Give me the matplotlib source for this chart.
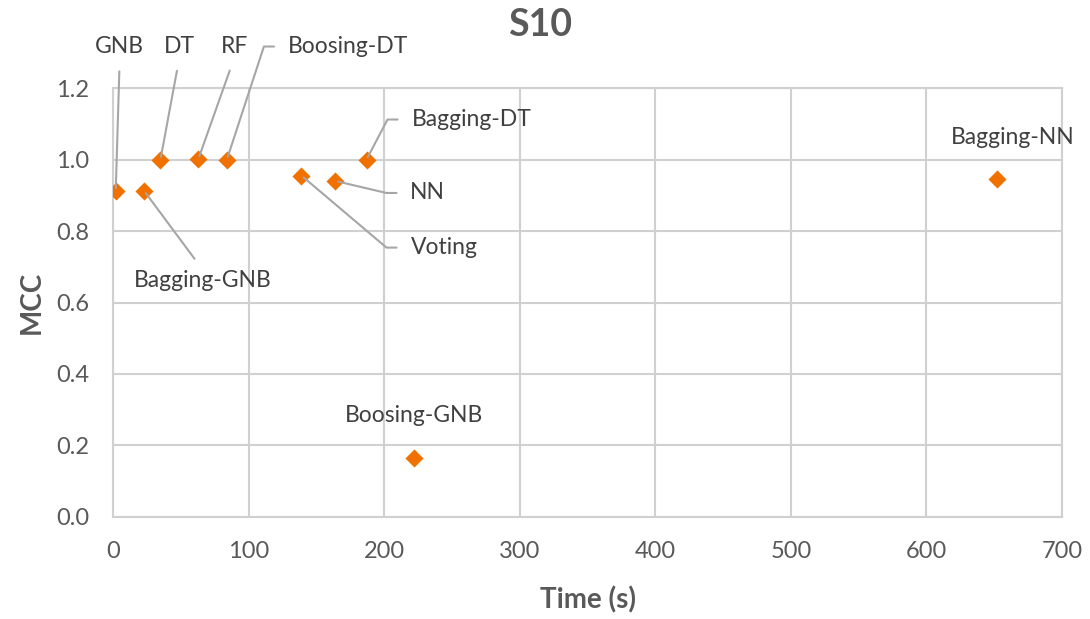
import numpy as np
import matplotlib.pyplot as plt

# Data
models = ['GNB', 'Bagging-GNB', 'DT', 'RF', 'Boosing-DT', 'Voting', 'NN',
          'Bagging-DT', 'Boosing-GNB', 'Bagging-NN']
time_s = [2, 23, 35, 63, 84, 139, 164, 187, 222, 652]
mcc = [0.912, 0.912, 1.0, 1.002, 1.0, 0.955, 0.94, 1.0, 0.165, 0.945]

# label placement: offset (pixels), horizontal align, leader anchor, elbow arm
label_style = {
    'GNB':         ((4, 144),   'center', (0.5, 0), 0),
    'DT':          ((19, 113),  'center', (0.5, 0), 0),
    'RF':          ((36, 112),  'center', (0.5, 0), 0),
    'Boosing-DT':  ((61, 113),  'left',   (0, 0.5), 24),
    'Bagging-DT':  ((45, 40),   'left',   (0, 0.5), 24),
    'NN':          ((75, -12),  'left',   (0, 0.5), 24),
    'Voting':      ((109, -72), 'left',   (0, 0.5), 24),
    'Bagging-GNB': ((59, -90),  'center', (0.5, 1), 0),
    'Boosing-GNB': ((0, 43),    'center', None, 0),
    'Bagging-NN':  ((16, 42),   'center', None, 0),
}

plt.rcParams['font.family'] = ['Lato', 'DejaVu Sans']
grey = '#595959'
grid_c = '#D0D0D0'

fig = plt.figure(figsize=(10.9, 6.19), dpi=100)
ax = fig.add_axes([0.1037, 0.1648, 0.8706, 0.693])

ax.scatter(time_s, mcc, marker='D', s=85, color='#F07000', zorder=3,
           linewidths=0)

for name, x, y in zip(models, time_s, mcc):
    offset, ha, rel, arm = label_style[name]
    props = None
    if rel is not None:
        if arm:
            cs = 'arc,angleA=180,armA=%d,angleB=0,armB=0,rad=0' % arm
        else:
            cs = 'arc3'
        props = dict(arrowstyle='-', color='#A6A6A6', lw=1.5, relpos=rel,
                     connectionstyle=cs, shrinkA=8, shrinkB=2)
    ax.annotate(name, xy=(x, y), xytext=offset, textcoords='offset pixels',
                ha=ha, va='center', fontsize=16.5, color='#404040',
                arrowprops=props, zorder=4)

ax.set_xlim(0, 700)
ax.set_ylim(0, 1.2)
ax.set_xticks(np.arange(0, 701, 100))
ax.set_yticks(np.arange(0, 1.21, 0.2))
ax.set_yticklabels(['%.1f' % v for v in np.arange(0, 1.21, 0.2)])
ax.tick_params(length=0, labelsize=17, labelcolor=grey)
ax.tick_params(axis='y', pad=17)
ax.tick_params(axis='x', pad=17)

ax.grid(True, color=grid_c, lw=1.5)
ax.set_axisbelow(True)
for sp in ax.spines.values():
    sp.set_color(grid_c)
    sp.set_linewidth(1.5)

ax.set_xlabel('Time (s)', fontsize=20, fontweight='bold', color=grey,
              labelpad=18)
ax.set_ylabel('MCC', fontsize=20, fontweight='bold', color=grey, labelpad=8)
fig.text(0.496, 0.96, 'S10', ha='center', va='center', fontsize=27,
         fontweight='bold', color=grey)

fig.savefig('out.png', dpi=100)
